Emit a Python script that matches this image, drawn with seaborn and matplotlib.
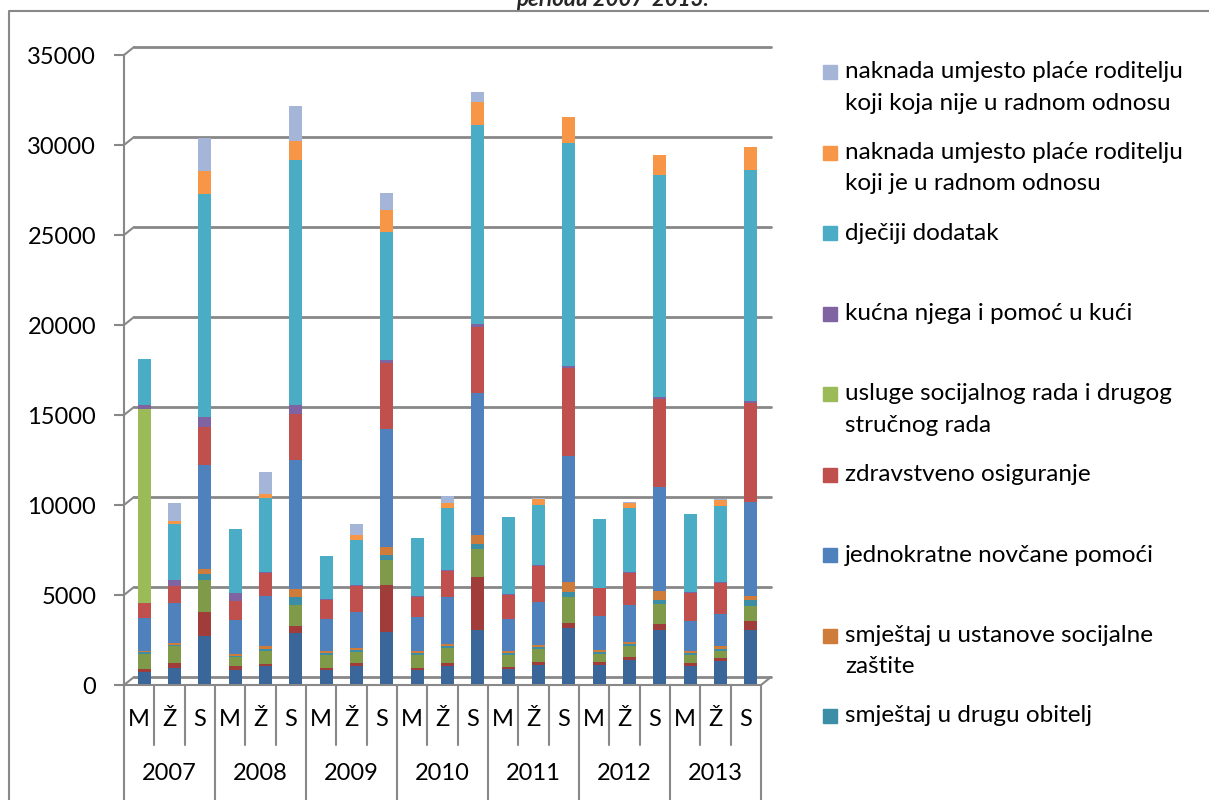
import matplotlib
matplotlib.use("Agg")
import matplotlib.pyplot as plt
import seaborn as sns
import numpy as np
import pandas as pd
from matplotlib.lines import Line2D
from matplotlib.patches import Rectangle
from matplotlib.transforms import offset_copy, blended_transform_factory

# --- data -------------------------------------------------------------
years = ["2007", "2008", "2009", "2010", "2011", "2012", "2013"]
sexes = ["M", "Ž", "S"]

# bottom three series: their legend entries are cut off in the source
hidden_a = [700, 930, 2700, 840, 1030, 2890, 820, 1080, 2970, 820, 1080, 3030,
            910, 1130, 3180, 1130, 1410, 3030, 1080, 1340, 3030]
hidden_b = [200, 280, 1360, 190, 150, 370, 110, 150, 2600, 150, 170, 2990,
            110, 170, 280, 130, 130, 370, 150, 170, 540]
hidden_c = [810, 930, 1750, 500, 690, 1210, 760, 610, 1360, 710, 800, 1520,
            650, 690, 1410, 480, 630, 1080, 450, 390, 820]
drugu_obitelj = [100, 90, 340, 90, 150, 410, 90, 90, 280, 90, 110, 320,
                 90, 110, 320, 90, 110, 240, 90, 110, 320]
ustanove = [100, 90, 280, 110, 130, 430, 110, 130, 480, 110, 110, 480,
            110, 130, 540, 90, 130, 480, 130, 130, 260]
jednokratne = [1830, 2230, 5780, 1900, 2800, 7180, 1750, 2010, 6560, 1900, 2600, 7860,
               1780, 2380, 6990, 1930, 2030, 5800, 1670, 1820, 5200]
zdravstveno = [800, 930, 2110, 1030, 1270, 2580, 1060, 1410, 3660, 1130, 1470, 3700,
               1340, 1990, 4870, 1520, 1780, 4910, 1560, 1730, 5520]
usluge = [10800, 0, 0, 0, 0, 0, 0, 0, 0, 0, 0, 0,
          0, 0, 0, 0, 0, 0, 0, 0, 0]
kucna_njega = [240, 370, 560, 430, 50, 500, 60, 60, 170, 50, 50, 170,
               40, 40, 130, 40, 40, 110, 40, 40, 110]
djeciji = [2550, 3070, 12400, 3580, 4140, 13600, 2420, 2530, 7100, 3180, 3420, 11040,
           4330, 3380, 12400, 3810, 3590, 12340, 4350, 4220, 12820]
naknada_rad = [0, 190, 1270, 0, 190, 1080, 0, 280, 1210, 0, 320, 1300,
               0, 300, 1410, 0, 260, 1080, 0, 320, 1260]
naknada_nerad = [0, 990, 1850, 0, 1210, 1900, 0, 580, 950, 0, 370, 540,
                 0, 80, 50, 0, 50, 30, 0, 40, 30]

series = [hidden_a, hidden_b, hidden_c, drugu_obitelj, ustanove, jednokratne,
          zdravstveno, usluge, kucna_njega, djeciji, naknada_rad, naknada_nerad]
colors = ["#3A6699", "#A03C39", "#7F9A48", "#3B8EA5", "#CF7B3A", "#4F81BD",
          "#C0504D", "#9BBB59", "#8064A2", "#4BACC6", "#F79646", "#A5B5D7"]
labels = [None, None, None,
          "smještaj u drugu obitelj",
          "smještaj u ustanove socijalne\nzaštite",
          "jednokratne novčane pomoći",
          "zdravstveno osiguranje",
          "usluge socijalnog rada i drugog\nstručnog rada",
          "kućna njega i pomoć u kući",
          "dječiji dodatak",
          "naknada umjesto plaće roditelju\nkoji je u radnom odnosu",
          "naknada umjesto plaće roditelju\nkoji koja nije u radnom odnosu"]

cats = [f"{y} {s}" for y in years for s in sexes]
df = pd.DataFrame({"kat": cats})
for i, vals in enumerate(series):
    df[f"s{i}"] = vals
cum = df[[f"s{i}" for i in range(len(series))]].cumsum(axis=1)

# --- figure -----------------------------------------------------------
sns.set_theme(style="white")
plt.rcParams["font.family"] = ["Lato", "DejaVu Sans"]

W, H = 1209, 800
fig = plt.figure(figsize=(W / 100, H / 100), dpi=100)
fig.patch.set_facecolor("white")


def fx(x):
    return x / W


def fy(y):
    return 1 - y / H


grey = "#888888"
ax = fig.add_axes([fx(124), fy(685), (761 - 124) / W, 630 / H])
ax.set_facecolor("none")

# stacked bars: draw cumulative totals from the top layer down
for i in range(len(series) - 1, -1, -1):
    sns.barplot(data=cum.assign(kat=cats), x="kat", y=f"s{i}", order=cats,
                color=colors[i], saturation=1, width=0.42, errorbar=None,
                linewidth=0, ax=ax, zorder=3)

shift = offset_copy(ax.transData, fig=fig, x=5, y=0, units="dots")
for p in ax.patches:
    p.set_transform(shift)

ax.set_xlim(-0.5, len(cats) - 0.5)
ax.set_ylim(0, 35000)
ax.set_xticks([])
ax.set_xlabel("")
ax.set_ylabel("")
ax.set_yticks(range(0, 35001, 5000))
ax.tick_params(axis="y", left=True, length=7, width=1.5, color=grey,
               pad=13, labelsize=17, labelcolor="black")
for s in ["top", "right", "bottom"]:
    ax.spines[s].set_visible(False)
ax.spines["left"].set_color(grey)
ax.spines["left"].set_linewidth(1.5)

# back-wall gridlines, offset like the 3-D chart
back = offset_copy(ax.transData, fig=fig, x=10, y=8, units="dots")
for v in range(0, 35001, 5000):
    ax.plot([-0.5, len(cats) - 0.5], [v, v], transform=back, color=grey,
            lw=2, zorder=1, clip_on=False)
    ypx = 685 - v / 35000 * 630
    fig.add_artist(Line2D([fx(124), fx(134)], [fy(ypx), fy(ypx - 8)],
                          color=grey, lw=1.5))

# floor
fig.add_artist(Line2D([fx(124), fx(761), fx(771)], [fy(685), fy(685), fy(677)],
                      color=grey, lw=1.5))

# two-level category axis
tb = blended_transform_factory(ax.transData, ax.transAxes)
row1 = (685 - 720) / 630
row2 = (685 - 773) / 630
inner_end = (685 - 745) / 630
outer_end = (685 - 805) / 630
for k, c in enumerate(cats):
    yr, sx = c.split(" ")
    ax.text(k, row1, sx, transform=tb, ha="center", va="center", fontsize=17,
            color="black")
    end = outer_end if k % 3 == 0 else inner_end
    ax.plot([k - 0.5, k - 0.5], [0, end], transform=tb, color=grey, lw=1.5,
            clip_on=False)
ax.plot([len(cats) - 0.5] * 2, [0, outer_end], transform=tb, color=grey,
        lw=1.5, clip_on=False)
for j, yr in enumerate(years):
    ax.text(3 * j + 1, row2, yr, transform=tb, ha="center", va="center",
            fontsize=17, color="black")

# legend (top series first)
entries = [(labels[i], colors[i]) for i in range(len(series) - 1, -1, -1)
           if labels[i] is not None]
for n, (lab, col) in enumerate(entries):
    yc = 72 + 80.5 * n
    fig.add_artist(Rectangle((fx(823), fy(yc + 7)), 14 / W, 14 / H,
                             transform=fig.transFigure, color=col))
    for m, line in enumerate(lab.split("\n")):
        fig.text(fx(845), fy(yc + 31 * m), line, ha="left", va="center",
                 fontsize=17.5, color="black")

# title fragment (cut by the top edge, as in the source) and chart frame
fig.text(fx(612), fy(6), "periodu 2007-2013.", ha="center", va="baseline",
         fontsize=16, fontweight="bold", fontstyle="italic")
fig.add_artist(Line2D([fx(9), fx(9), fx(1212)], [fy(805), fy(11), fy(11)],
                      color=grey, lw=1.5))

fig.savefig("out.png", dpi=100)
